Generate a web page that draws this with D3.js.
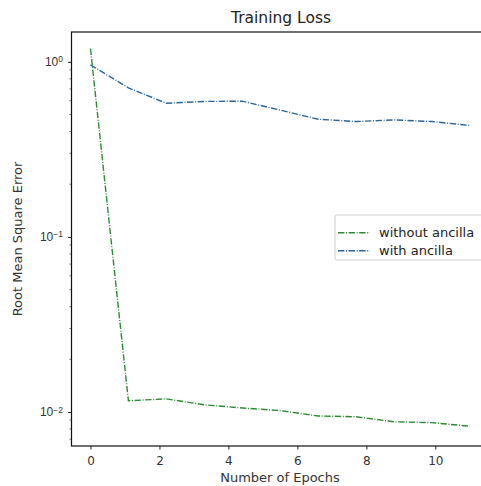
<!DOCTYPE html>
<html>
<head>
<meta charset="utf-8">
<script src="https://cdn.jsdelivr.net/npm/d3@7.9.0/dist/d3.min.js"></script>
<style>
  body { margin: 0; background: #fff; }
  svg { display: block; font-family: "DejaVu Sans", sans-serif; }
</style>
</head>
<body>
<svg id="chart" width="481" height="486"></svg>
<script>
// epochs are spaced 1.1 apart (11 points from 0 to 11)
const epochs = [0, 1.1, 2.2, 3.3, 4.4, 5.5, 6.6, 7.7, 8.8, 9.9, 11];
const withoutAncilla = [1.19, 0.0116, 0.0119, 0.0110, 0.01055, 0.0102, 0.0095, 0.0094, 0.0088, 0.0087, 0.0083];
const withAncilla = [0.96, 0.71, 0.58, 0.594, 0.596, 0.53, 0.47, 0.456, 0.466, 0.456, 0.433];
const xTicks = [0, 2, 4, 6, 8, 10];
const yTicks = [1, 0.1, 0.01];
const yTickExp = ['0', '−1', '−2'];

const series = [
  { name: 'without ancilla', values: withoutAncilla, color: '#2f8a34' },
  { name: 'with ancilla', values: withAncilla, color: '#2c6596' }
];

const svg = d3.select('#chart');
const plotLeft = 71.5, plotTop = 32, plotBottom = 446;
const x = d3.scaleLinear().domain([-0.55, 11.55]).range([plotLeft, 488.8]);
const y = d3.scaleLog().domain([0.0064, 1.48]).range([plotBottom, plotTop]);

// x axis
const xAxis = svg.append('g').attr('transform', `translate(0,${plotBottom})`)
  .call(d3.axisBottom(x).tickValues(xTicks).tickSize(3.5).tickPadding(7).tickFormat(d3.format('d')));
xAxis.select('.domain').remove();
xAxis.selectAll('text').attr('font-size', 12).attr('fill', '#333').attr('font-family', 'DejaVu Sans');
xAxis.selectAll('line').attr('stroke', '#222');

// y axis minor ticks
const minor = [];
for (let e = -3; e <= 0; e++) {
  for (let m = 2; m <= 9; m++) {
    const v = m * Math.pow(10, e);
    if (v > y.domain()[0] && v < y.domain()[1]) minor.push(v);
  }
}
svg.append('g').selectAll('line').data(minor).join('line')
  .attr('x1', plotLeft - 2).attr('x2', plotLeft)
  .attr('y1', d => y(d)).attr('y2', d => y(d))
  .attr('stroke', '#222').attr('stroke-width', 0.6);

const yAxis = svg.append('g').attr('transform', `translate(${plotLeft},0)`)
  .call(d3.axisLeft(y).tickValues(yTicks).tickSize(3.5).tickPadding(3.5).tickFormat(''));
yAxis.select('.domain').remove();
yAxis.selectAll('line').attr('stroke', '#222');
yAxis.selectAll('.tick').each(function (d, i) {
  const t = d3.select(this).append('text')
    .attr('x', -8.5).attr('dy', '0.32em').attr('text-anchor', 'end')
    .attr('font-size', 12).attr('fill', '#333');
  t.append('tspan').text('10');
  t.append('tspan').attr('dy', '-0.45em').attr('font-size', 8.5).text(yTickExp[i]);
});

// lines
const line = d3.line().x((d, i) => x(epochs[i])).y(d => y(d));
const g = svg.append('g');
series.forEach(s => {
  g.append('path').datum(s.values)
    .attr('d', line)
    .attr('fill', 'none')
    .attr('stroke', s.color)
    .attr('stroke-width', 1.4)
    .attr('stroke-dasharray', '6.4,1.6,1,1.6');
});

// frame
svg.append('rect')
  .attr('x', plotLeft).attr('y', plotTop)
  .attr('width', x.range()[1] - plotLeft).attr('height', plotBottom - plotTop)
  .attr('fill', 'none').attr('stroke', '#111').attr('stroke-width', 1.2);

// title and labels
svg.append('text').attr('x', 281).attr('y', 23).attr('text-anchor', 'middle')
  .attr('font-size', 15.5).attr('fill', '#222').text('Training Loss');
svg.append('text').attr('x', 280).attr('y', 482).attr('text-anchor', 'middle')
  .attr('font-size', 13).attr('fill', '#333').text('Number of Epochs');
svg.append('text').attr('transform', `translate(22,${(plotTop + plotBottom) / 2}) rotate(-90)`)
  .attr('text-anchor', 'middle').attr('font-size', 13).attr('fill', '#333')
  .text('Root Mean Square Error');

// legend
const lg = svg.append('g').attr('transform', 'translate(335,215)');
lg.append('rect').attr('width', 160).attr('height', 45).attr('rx', 2)
  .attr('fill', '#fff').attr('fill-opacity', 0.8).attr('stroke', '#ccc');
series.forEach((s, i) => {
  const row = lg.append('g').attr('transform', `translate(0,${17.7 + i * 18})`);
  row.append('line').attr('x1', 3).attr('x2', 35).attr('y1', 0).attr('y2', 0)
    .attr('stroke', s.color).attr('stroke-width', 1.4).attr('stroke-dasharray', '6.4,1.6,1,1.6');
  row.append('text').attr('x', 44).attr('y', 0).attr('dy', '0.35em')
    .attr('font-size', 13).attr('fill', '#222').text(s.name);
});
</script>
</body>
</html>
